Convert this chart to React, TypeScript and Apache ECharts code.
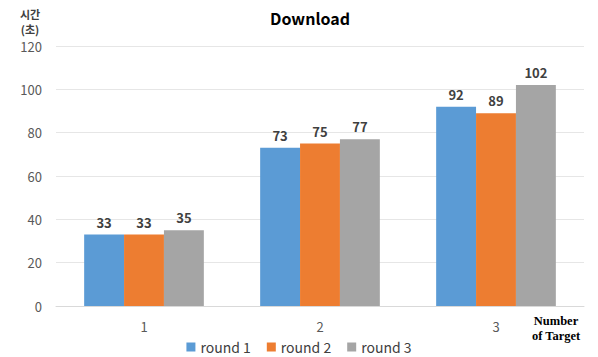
import React, { useEffect, useRef } from "react";
import * as echarts from "echarts";

const categories = ["1", "2", "3"];
const round1 = [33, 73, 92];
const round2 = [33, 75, 89];
const round3 = [35, 77, 102];
const seriesNames = ["round 1", "round 2", "round 3"];
const colors = ["#5B9BD5", "#ED7D31", "#A5A5A5"];

export default function App() {
  const ref = useRef<HTMLDivElement>(null);
  useEffect(() => {
    if (!ref.current) return;
    const chart = echarts.init(ref.current, null, { renderer: "svg" });
    const font = "'Noto Sans CJK KR', 'Noto Sans', sans-serif";
    const dataSets = [round1, round2, round3];
    const nameStyle = {
      fontSize: 11,
      fontWeight: "bold",
      fill: "#404040",
      align: "center",
      verticalAlign: "middle",
      fontFamily: font,
    };
    chart.setOption({
      animation: false,
      textStyle: { fontFamily: font },
      title: {
        text: "Download",
        left: 305,
        textAlign: "center",
        top: 5,
        textStyle: { fontSize: 16, fontWeight: "bold", color: "#000", fontFamily: font },
      },
      legend: {
        top: 340,
        left: "center",
        padding: 0,
        itemWidth: 9,
        itemHeight: 9,
        itemGap: 16,
        icon: "rect",
        textStyle: { fontSize: 14, lineHeight: 14, color: "#404040", fontFamily: font },
        data: seriesNames,
      },
      grid: { left: 56, right: 14, top: 46, bottom: 51, containLabel: false },
      xAxis: {
        type: "category",
        data: categories,
        axisLine: { lineStyle: { color: "#D9D9D9" } },
        axisTick: { show: false },
        axisLabel: { fontSize: 13, lineHeight: 14, color: "#595959", margin: 13, fontFamily: font },
      },
      yAxis: {
        type: "value",
        min: 0,
        max: 120,
        interval: 20,
        axisLine: { show: false },
        axisTick: { show: false },
        splitLine: { lineStyle: { color: "#E6E6E6" } },
        axisLabel: { fontSize: 13, color: "#595959", margin: 14, fontFamily: font },
      },
      graphic: [
        { type: "text", x: 30, y: 14, style: { ...nameStyle, text: "시간" } },
        { type: "text", x: 30, y: 29, style: { ...nameStyle, text: "(초)" } },
        {
          type: "text",
          x: 556,
          y: 313,
          style: {
            text: "Number\nof Target",
            fontSize: 12.5,
            fontWeight: "bold",
            fill: "#000",
            align: "center",
            verticalAlign: "top",
            lineHeight: 15,
            fontFamily: "'Liberation Serif', 'DejaVu Serif', serif",
          },
        },
      ],
      series: dataSets.map((d, i) => ({
        name: seriesNames[i],
        type: "bar",
        data: d,
        barGap: "0%",
        barCategoryGap: "32%",
        itemStyle: { color: colors[i] },
        label: {
          show: true,
          position: "top",
          distance: 6,
          fontSize: 13,
          fontWeight: "bold",
          color: "#404040",
          fontFamily: font,
        },
      })),
    });
    return () => chart.dispose();
  }, []);
  return (
    <div
      ref={ref}
      style={{ position: "absolute", left: 0, top: 0, width: 598, height: 357 }}
    />
  );
}
